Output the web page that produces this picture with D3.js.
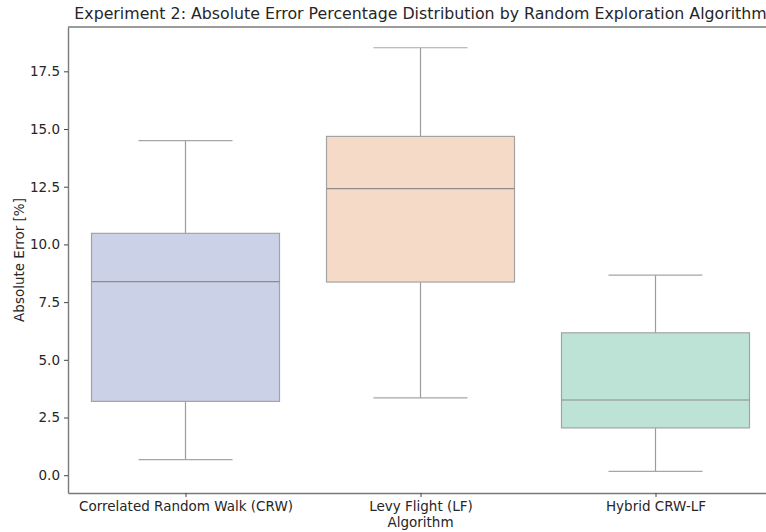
<!doctype html>
<html lang="en">
<head>
<meta charset="utf-8">
<title>Experiment 2 boxplot</title>
<style>
  body { margin: 0; background: #fff; }
  svg { display: block; font-family: "DejaVu Sans", sans-serif; }
</style>
</head>
<body>
<script src="https://cdn.jsdelivr.net/npm/d3@7/dist/d3.min.js"></script>
<script>

// data
const algorithms = ["Correlated Random Walk (CRW)", "Levy Flight (LF)", "Hybrid CRW-LF"];
const whiskerLow  = [0.68, 3.35, 0.17];
const q1          = [3.2, 8.37, 2.05];
const median      = [8.39, 12.42, 3.26];
const q3          = [10.48, 14.68, 6.17];
const whiskerHigh = [14.5, 18.52, 8.67];
const yTicks = [0, 2.5, 5, 7.5, 10, 12.5, 15, 17.5];
const fills = ["#cbd1e6", "#f5dac8", "#bde3d6"];

const width = 766, height = 532;
const margin = {top: 27, right: -7, bottom: 39, left: 68};

const svg = d3.select("body").append("svg")
    .attr("width", width)
    .attr("height", height);

const x = d3.scaleLinear()
    .domain([-0.5, algorithms.length - 0.5])
    .range([margin.left, width - margin.right]);

const y = d3.scaleLinear()
    .domain([-0.77, 19.42])
    .range([height - margin.bottom, margin.top]);

const boxW = 0.8, capW = 0.4;

const boxes = algorithms.map((name, i) => ({
  name, i,
  lo: whiskerLow[i], q1: q1[i], med: median[i], q3: q3[i], hi: whiskerHigh[i],
  fill: fills[i]
}));

const g = svg.append("g");

// whiskers
g.selectAll("line.whisker-lo")
  .data(boxes).join("line")
  .attr("x1", d => x(d.i)).attr("x2", d => x(d.i))
  .attr("y1", d => y(d.lo)).attr("y2", d => y(d.q1))
  .attr("stroke", "#9c9c9c").attr("stroke-width", 1.2);

g.selectAll("line.whisker-hi")
  .data(boxes).join("line")
  .attr("x1", d => x(d.i)).attr("x2", d => x(d.i))
  .attr("y1", d => y(d.q3)).attr("y2", d => y(d.hi))
  .attr("stroke", "#9c9c9c").attr("stroke-width", 1.2);

// caps
["lo", "hi"].forEach(k => {
  g.selectAll("line.cap-" + k)
    .data(boxes).join("line")
    .attr("x1", d => x(d.i - capW / 2)).attr("x2", d => x(d.i + capW / 2))
    .attr("y1", d => y(d[k])).attr("y2", d => y(d[k]))
    .attr("stroke", "#a6a6a6").attr("stroke-width", 1.2);
});

// boxes
g.selectAll("rect.box")
  .data(boxes).join("rect")
  .attr("x", d => x(d.i - boxW / 2))
  .attr("width", d => x(d.i + boxW / 2) - x(d.i - boxW / 2))
  .attr("y", d => y(d.q3))
  .attr("height", d => y(d.q1) - y(d.q3))
  .attr("fill", d => d.fill)
  .attr("stroke", "#a3a3a3").attr("stroke-width", 1.2);

// medians
g.selectAll("line.median")
  .data(boxes).join("line")
  .attr("x1", d => x(d.i - boxW / 2)).attr("x2", d => x(d.i + boxW / 2))
  .attr("y1", d => y(d.med)).attr("y2", d => y(d.med))
  .attr("stroke", "#8c8c8c").attr("stroke-width", 1.2);

// axes
const yAxis = svg.append("g")
  .attr("transform", `translate(${margin.left},0)`)
  .call(d3.axisLeft(y).tickValues(yTicks).tickFormat(d3.format(".1f"))
    .tickSizeInner(4).tickSizeOuter(0).tickPadding(4));

const xAxis = svg.append("g")
  .attr("transform", `translate(0,${height - margin.bottom})`)
  .call(d3.axisBottom(x).tickValues(d3.range(algorithms.length)).tickFormat(i => algorithms[i])
    .tickSizeInner(4).tickSizeOuter(0).tickPadding(4));

[yAxis, xAxis].forEach(a => {
  a.selectAll("text").attr("fill", "#262626").style("font-size", "13.5px").style("font-family", "DejaVu Sans");
  a.selectAll(".tick line").attr("stroke", "#444");
  a.select(".domain").attr("stroke", "#7a7a7a").attr("stroke-width", 1.4);
});

// top spine
svg.append("line")
  .attr("x1", margin.left).attr("x2", width)
  .attr("y1", margin.top).attr("y2", margin.top)
  .attr("stroke", "#7a7a7a").attr("stroke-width", 1.4);

// labels
svg.append("text")
  .attr("x", (x.range()[0] + x.range()[1]) / 2)
  .attr("y", 19)
  .attr("text-anchor", "middle")
  .attr("fill", "#262626")
  .style("font-size", "15.8px")
  .text("Experiment 2: Absolute Error Percentage Distribution by Random Exploration Algorithm");

svg.append("text")
  .attr("x", (x.range()[0] + x.range()[1]) / 2)
  .attr("y", 527)
  .attr("text-anchor", "middle")
  .attr("fill", "#262626")
  .style("font-size", "13.5px")
  .text("Algorithm");

svg.append("text")
  .attr("transform", `translate(24,${(y.range()[0] + y.range()[1]) / 2}) rotate(-90)`)
  .attr("text-anchor", "middle")
  .attr("fill", "#262626")
  .style("font-size", "13.5px")
  .text("Absolute Error [%]");

</script>
</body>
</html>
